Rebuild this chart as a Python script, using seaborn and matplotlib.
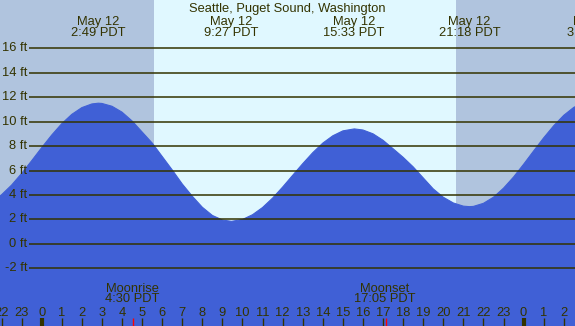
import matplotlib
matplotlib.use('Agg')
import matplotlib.pyplot as plt
import matplotlib.transforms as mtransforms
import seaborn as sns

# tide heights (ft), hours from midnight May 12
hours = [-2.5, -2.0, -1.5, -1.0, -0.5, 0.0, 0.5, 1.0, 1.5, 2.0, 2.5, 2.82,
         3.0, 3.5, 4.0, 4.5, 5.0, 5.5, 6.0, 6.5, 7.0, 7.5, 8.0, 8.5, 9.0, 9.45,
         10.0, 10.5, 11.0, 11.5, 12.0, 12.5, 13.0, 13.5, 14.0, 14.5, 15.0, 15.57,
         16.0, 16.5, 17.0, 17.5, 18.0, 18.5, 19.0, 19.5, 20.0, 20.5, 21.0, 21.3,
         21.5, 22.0, 22.5, 23.0, 23.5, 24.0, 24.5, 25.0, 25.5, 26.0, 26.5, 27.0]
heights = [3.43, 4.02, 4.81, 5.76, 6.80, 7.87, 8.90, 9.83, 10.59, 11.14, 11.44, 11.50,
           11.48, 11.25, 10.77, 10.05, 9.15, 8.25, 7.15, 6.05, 4.90, 3.90, 3.00, 2.33, 1.96, 1.85,
           2.00, 2.39, 2.98, 3.75, 4.65, 5.61, 6.56, 7.46, 8.24, 8.84, 9.24, 9.40,
           9.31, 9.00, 8.47, 7.78, 7.08, 6.30, 5.40, 4.50, 3.82, 3.35, 3.09, 3.05,
           3.07, 3.32, 3.82, 4.56, 5.47, 6.51, 7.60, 8.67, 9.66, 10.51, 11.16, 11.56]

# high / low labels
event_hours = [2.82, 9.45, 15.55, 21.3, 27.5]
event_dates = ['May 12', 'May 12', 'May 12', 'May 12', 'May 13']
event_times = ['2:49 PDT', '9:27 PDT', '15:33 PDT', '21:18 PDT', '3:30 PDT']

sunrise, sunset = 5.59, 20.63
moon_hours = [4.5, 17.083]
moon_names = ['Moonrise', 'Moonset']
moon_times = ['4:30 PDT', '17:05 PDT']

grid_ft = [-2, 0, 2, 4, 6, 8, 10, 12, 14, 16]
tick_hours = list(range(-2, 27))

night = '#B0C4DE'
day = '#E0F8FF'
water = '#4060D6'
ink = '#333300'

sns.set_style('white')
plt.rcParams['font.family'] = ['Liberation Sans', 'DejaVu Sans']
fs = 9.3

fig = plt.figure(figsize=(5.75, 3.26), dpi=100)
ax = fig.add_axes([0, 0, 1, 1])
ax.set_xlim(-2.077, 26.56)
ax.set_ylim(-6.70, 19.93)
ax.axis('off')

ax.axvspan(-5, sunrise, color=night, lw=0, zorder=0)
ax.axvspan(sunrise, sunset, color=day, lw=0, zorder=0)
ax.axvspan(sunset, 30, color=night, lw=0, zorder=0)

ax.fill_between(hours, heights, -10, color=water, lw=0, zorder=1)
sns.lineplot(x=hours, y=heights, ax=ax, color=water, lw=0.8, zorder=1)

# horizontal grid + labels
ax.hlines(grid_ft, -0.63, 30, color=ink, lw=1.1, zorder=2)
for g in grid_ft:
    ax.text(-0.72, g, f'{g} ft', ha='right', va='center', fontsize=fs, color=ink)

# figure pixel coordinates from top
def ypix(p):
    return 1 - p / 326.0

blend = mtransforms.blended_transform_factory(ax.transData, ax.transAxes)

ax.text(0.5, ypix(12), 'Seattle, Puget Sound, Washington', transform=ax.transAxes,
        ha='center', va='baseline', fontsize=fs, color=ink)
for h, d, t in zip(event_hours, event_dates, event_times):
    ax.text(h, ypix(24.5), d, transform=blend, ha='center', va='baseline',
            fontsize=fs, color=ink, clip_on=False)
    ax.text(h, ypix(35.5), t, transform=blend, ha='center', va='baseline',
            fontsize=fs, color=ink, clip_on=False)

for h, n, t in zip(moon_hours, moon_names, moon_times):
    ax.text(h, ypix(291.5), n, transform=blend, ha='center', va='baseline',
            fontsize=fs, color=ink)
    ax.text(h, ypix(302.5), t, transform=blend, ha='center', va='baseline',
            fontsize=fs, color=ink)

# hour ticks along the bottom
for h in tick_hours:
    ax.text(h, ypix(315.5), str(h % 24), transform=blend, ha='center',
            va='baseline', fontsize=fs, color=ink)
    lw = 3 if h % 24 == 0 else 1
    ax.vlines(h, 0, ypix(318), transform=blend, color=ink, lw=lw, zorder=3)
for h in moon_hours:
    ax.vlines(h + 0.05, 0, ypix(318), transform=blend, color='red', lw=1, zorder=3)

fig.savefig('out.png', dpi=100)
